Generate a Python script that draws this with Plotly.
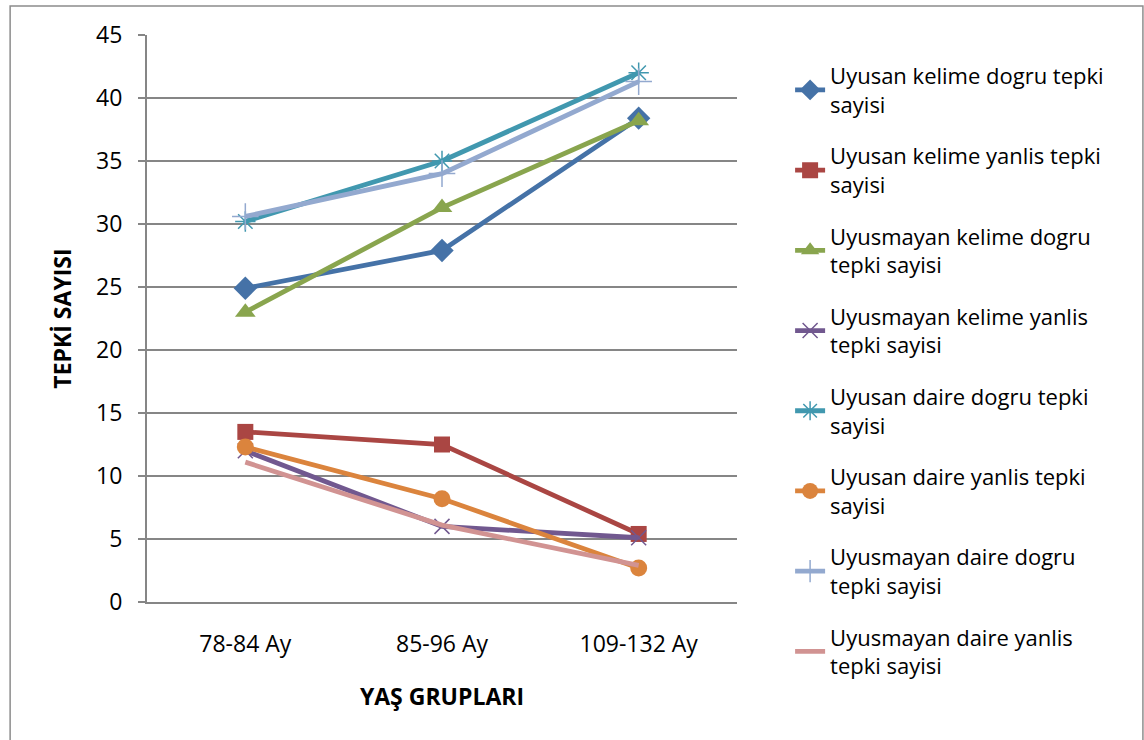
import plotly.graph_objects as go

# Age groups on the x axis
categories = ["78-84 Ay", "85-96 Ay", "109-132 Ay"]

# Response counts per series
uyusan_kelime_dogru = [24.9, 27.9, 38.4]
uyusan_kelime_yanlis = [13.5, 12.5, 5.4]
uyusmayan_kelime_dogru = [23.0, 31.3, 38.2]
uyusmayan_kelime_yanlis = [12.0, 6.0, 5.1]
uyusan_daire_dogru = [30.2, 35.0, 42.0]
uyusan_daire_yanlis = [12.3, 8.2, 2.7]
uyusmayan_daire_dogru = [30.6, 34.0, 41.3]
uyusmayan_daire_yanlis = [11.1, 6.1, 2.9]

series_names = [
    "Uyusan kelime dogru tepki<br>sayisi",
    "Uyusan kelime yanlis tepki<br>sayisi",
    "Uyusmayan kelime dogru<br>tepki sayisi",
    "Uyusmayan kelime yanlis<br>tepki sayisi",
    "Uyusan daire dogru tepki<br>sayisi",
    "Uyusan daire yanlis tepki<br>sayisi",
    "Uyusmayan daire dogru<br>tepki sayisi",
    "Uyusmayan daire yanlis<br>tepki sayisi",
]

y_ticks = [0, 5, 10, 15, 20, 25, 30, 35, 40, 45]

series_values = [
    uyusan_kelime_dogru,
    uyusan_kelime_yanlis,
    uyusmayan_kelime_dogru,
    uyusmayan_kelime_yanlis,
    uyusan_daire_dogru,
    uyusan_daire_yanlis,
    uyusmayan_daire_dogru,
    uyusmayan_daire_yanlis,
]

styles = [
    dict(color="#4572A7", symbol="diamond", size=18, lw=0),
    dict(color="#AA4643", symbol="square", size=16, lw=0),
    dict(color="#89A54E", symbol="triangle-up", size=18, lw=0),
    dict(color="#71588F", symbol="x-thin", size=15, lw=1.5),
    dict(color="#4198AF", symbol="asterisk", size=17, lw=1.5),
    dict(color="#DB843D", symbol="circle", size=17, lw=0),
    dict(color="#93A9CF", symbol="cross-thin", size=19, lw=1.5),
    dict(color="#D19392", symbol=None, size=0, lw=0),
]

FONT = "Open Sans"

fig = go.Figure()
for i, (name, vals, st) in enumerate(zip(series_names, series_values, styles)):
    if st["symbol"] is None:
        mode = "lines"
        marker = None
    else:
        mode = "lines+markers"
        marker = dict(
            symbol=st["symbol"],
            size=st["size"],
            color=st["color"],
            line=dict(color=st["color"], width=st["lw"]),
        )
    fig.add_trace(
        go.Scatter(
            x=categories,
            y=vals,
            name=name,
            mode=mode,
            line=dict(color=st["color"], width=4.8),
            marker=marker,
            legendgroup=f"g{i}",
        )
    )

fig.update_layout(
    width=1144,
    height=740,
    margin=dict(l=147, r=407, t=35, b=138),
    paper_bgcolor="white",
    plot_bgcolor="white",
    font=dict(family=FONT, color="#000000", size=22),
    legend=dict(
        x=1.09,
        y=0.965,
        xanchor="left",
        yanchor="top",
        font=dict(family=FONT, size=22, color="#000000"),
        tracegroupgap=20,
        itemwidth=30,
        maxheight=720,
        bgcolor="rgba(0,0,0,0)",
    ),
    xaxis=dict(
        type="category",
        range=[-0.5, 2.5],
        showgrid=False,
        showline=True,
        linecolor="#868686",
        linewidth=2,
        ticks="",
        ticklabelstandoff=20,
        tickfont=dict(family=FONT, size=23),
        title=dict(
            text="<b>YAŞ GRUPLARI</b>",
            font=dict(family=FONT, size=23),
            standoff=31,
        ),
    ),
    yaxis=dict(
        range=[0, 45],
        tickvals=y_ticks,
        showgrid=True,
        gridcolor="#868686",
        gridwidth=1.5,
        showline=True,
        linecolor="#868686",
        linewidth=2,
        ticks="outside",
        ticklen=7,
        tickcolor="#868686",
        tickwidth=1.5,
        ticklabelstandoff=11,
        zeroline=False,
        tickfont=dict(family=FONT, size=23),
        title=dict(
            text="<b>TEPKİ SAYISI</b>",
            font=dict(family=FONT, size=23),
            standoff=18,
        ),
    ),
)

# Outer chart frame
fig.add_shape(
    type="rect",
    xref="paper",
    yref="paper",
    x0=-0.232,
    x1=1.688,
    y0=-0.26,
    y1=1.051,
    line=dict(color="#8c8c8c", width=1.5),
    fillcolor="rgba(0,0,0,0)",
    layer="below",
)

fig.write_html("out.html")
